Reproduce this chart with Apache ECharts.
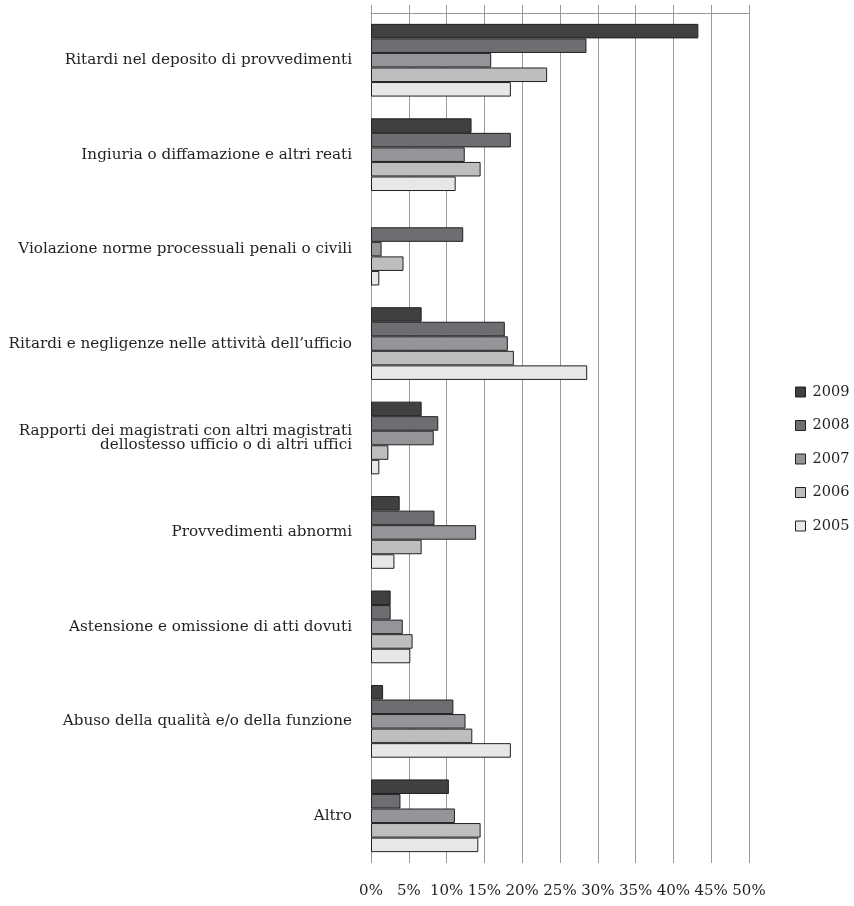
<!DOCTYPE html>
<html>
<head>
<meta charset="utf-8">
<script src="https://cdn.jsdelivr.net/npm/echarts@6/dist/echarts.min.js"></script>
<style>html,body{margin:0;padding:0;background:#fff}#c{width:854px;height:906px}</style>
</head>
<body>
<div id="c"></div>
<script>
const categories = [
  "Ritardi nel deposito di provvedimenti",
  "Ingiuria o diffamazione e altri reati",
  "Violazione norme processuali penali o civili",
  "Ritardi e negligenze nelle attività dell’ufficio",
  "Rapporti dei magistrati con altri magistrati\ndellostesso ufficio o di altri uffici",
  "Provvedimenti abnormi",
  "Astensione e omissione di atti dovuti",
  "Abuso della qualità e/o della funzione",
  "Altro"
];
const years = ["2009", "2008", "2007", "2006", "2005"];
const v2009 = [43.3, 13.3, null, 6.7, 6.7, 3.8, 2.6, 1.6, 10.3];
const v2008 = [28.5, 18.5, 12.2, 17.7, 8.9, 8.4, 2.6, 10.9, 3.9];
const v2007 = [15.9, 12.4, 1.4, 18.1, 8.3, 13.9, 4.2, 12.5, 11.1];
const v2006 = [23.3, 14.5, 4.3, 18.9, 2.3, 6.7, 5.5, 13.4, 14.5];
const v2005 = [18.5, 11.2, 1.1, 28.6, 1.1, 3.1, 5.2, 18.5, 14.2];
const xTicks = [0, 5, 10, 15, 20, 25, 30, 35, 40, 45, 50];

const seriesValues = [v2009, v2008, v2007, v2006, v2005];
const colors = ['#404041', '#6d6e71', '#939598', '#bcbec0', '#e6e7e8'];
const FONT = '"DejaVu Serif", serif';

const chart = echarts.init(document.getElementById('c'), null, {renderer: 'canvas'});
chart.setOption({
  animation: false,
  backgroundColor: '#fff',
  grid: {left: 371, right: 105, top: 13, bottom: 43, containLabel: false, outerBoundsMode: 'none'},
  legend: {
    data: years,
    orient: 'vertical',
    left: 795,
    top: 384.5,
    padding: 0,
    itemWidth: 10,
    itemHeight: 10,
    itemGap: 18.5,
    icon: 'rect',
    itemStyle: {borderColor: '#231f20', borderWidth: 1},
    textStyle: {fontFamily: FONT, fontSize: 14.5, color: '#231f20', padding: [0, 0, 0, 2]}
  },
  xAxis: [{
    type: 'value',
    position: 'bottom',
    min: xTicks[0],
    max: xTicks[xTicks.length - 1],
    interval: 5,
    axisLine: {show: false},
    axisTick: {show: false},
    axisLabel: {formatter: '{value}%', fontFamily: FONT, fontSize: 15, color: '#231f20', margin: 21},
    splitLine: {show: true, lineStyle: {color: '#9a9a9a', width: 1}}
  }, {
    type: 'value',
    position: 'top',
    min: xTicks[0],
    max: xTicks[xTicks.length - 1],
    interval: 5,
    axisLine: {show: true, lineStyle: {color: '#9a9a9a', width: 1}},
    axisTick: {show: true, inside: false, length: 8, lineStyle: {color: '#9a9a9a'}},
    axisLabel: {show: false},
    splitLine: {show: false}
  }],
  yAxis: {
    type: 'category',
    data: categories,
    inverse: true,
    axisLine: {show: false},
    axisTick: {show: false},
    axisLabel: {fontFamily: FONT, fontSize: 15.2, lineHeight: 14.5, color: '#231f20', margin: 19, align: 'right'}
  },
  series: years.map((y, i) => ({
    name: y,
    type: 'bar',
    data: seriesValues[i],
    barGap: '0%',
    barCategoryGap: '23%',
    itemStyle: {color: colors[i], borderColor: '#231f20', borderWidth: 1}
  }))
});
</script>
</body>
</html>
